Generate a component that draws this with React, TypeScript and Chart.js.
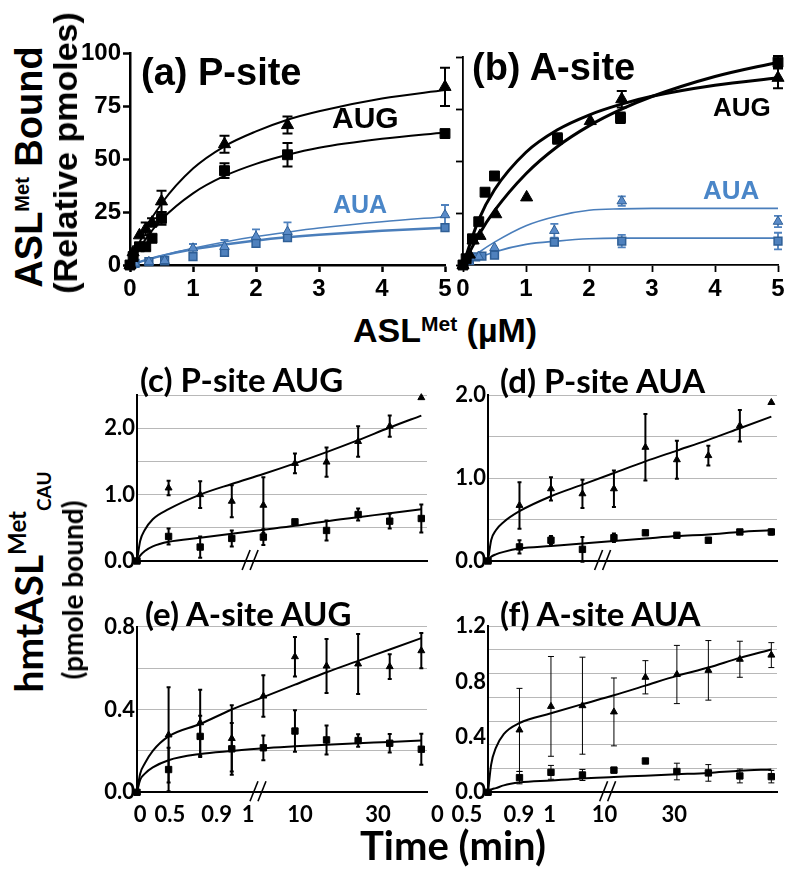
import React, { useEffect, useRef } from 'react';
import { Chart, registerables } from 'chart.js';

Chart.register(...registerables);

// ================= DATA =================
// Top row: ASL-Met concentration (µM) vs bound (relative pmoles)
const concTickValues = [0, 1, 2, 3, 4, 5];
const boundTickValues = [0, 25, 50, 75, 100];
const fitConc = [0, 0.25, 0.5, 1, 1.5, 2, 2.5, 3, 4, 5];

// (a) P-site
const aAugX = [0, 0.05, 0.15, 0.25, 0.35, 0.5, 1.5, 2.5, 5];
const aAugTri = [0, 6, 14, 17, 20, 30, 57, 66, 84];
const aAugTriErr = [0, 0, 0, 3, 2, 5, 4, 4, 9];
const aAugSq = [0, 4, 8.6, 8.6, 12.6, 22, 44.5, 52, 62];
const aAugSqErr = [0, 0, 0, 1.5, 1.5, 3, 3.5, 5.5, 0];
const aAuaX = [0, 0.08, 0.3, 0.55, 1, 1.5, 2, 2.5, 5];
const aAuaTri = [0, 0.8, 1.5, 2, 7.9, 8.6, 13.4, 15.7, 23.6];
const aAuaTriErr = [0, 0, 0, 0, 2, 3.2, 3.4, 4.4, 4.7];
const aAuaSq = [0, 0.8, 1.6, 2, 3.9, 6, 10.2, 12.9, 17.6];
const aAuaSqErr = [0, 0, 0, 0, 1, 1, 1, 1, 1];
const aAugTriFit = [0, 17, 29, 45.5, 56, 63, 68.5, 72.5, 78.5, 82.5];
const aAugSqFit = [0, 12.3, 21.4, 33.8, 42, 47.7, 52, 55.3, 59.5, 62.5];
const aAuaTriFit = [0, 2.3, 4.4, 7.9, 10.9, 13.4, 15.5, 17.4, 20.4, 22.8];
const aAuaSqFit = [0, 2.3, 4.3, 7.4, 9.7, 11.6, 13.1, 14.3, 16.2, 17.6];

// (b) A-site
const bAugSqX = [0, 0.05, 0.15, 0.25, 0.35, 0.5, 1.5, 2.5, 5];
const bAugSq = [0, 3, 12.6, 20.8, 35, 42.8, 60.8, 70.8, 97.5];
const bAugSqErr = [0, 0, 0, 0, 0, 0, 2.5, 2.5, 3];
const bAugTriX = [0, 0.1, 0.16, 0.27, 0.52, 1.01, 2.02, 2.52, 5];
const bAugTri = [0, 5, 11.8, 14, 24.4, 32.5, 69.2, 79.7, 90];
const bAugTriErr = [0, 0, 0, 0, 0, 0, 0, 4, 5];
const bAuaTriX = [0, 0.1, 0.25, 0.5, 1.45, 2.52, 5];
const bAuaTri = [0, 1.5, 4, 8.3, 16.5, 30.7, 20.9];
const bAuaTriErr = [0, 0, 0, 0, 3.3, 2.3, 2.7];
const bAuaSqX = [0, 0.1, 0.2, 0.3, 0.5, 1.45, 2.52, 5];
const bAuaSq = [0, 2.4, 3.9, 4.3, 4.7, 11, 11.5, 11.5];
const bAuaSqErr = [0, 0, 0, 0, 0, 1.5, 3, 4];
const bAugFitEarly = [0, 21.8, 36.2, 54.2, 65, 72.1, 77.2, 81.1, 86.4, 90];
const bAugFitLate = [0, 14.4, 26.1, 43.9, 57, 66.9, 74.7, 81, 90.6, 97.5];
const bAuaTriFit = [0, 6, 11, 18.9, 23.6, 26.3, 27, 27.2, 27.2, 27.2];
const bAuaSqFit = [0, 3.5, 6.3, 9.9, 11.5, 12.6, 12.9, 12.9, 12.9, 12.9];

// Bottom: time courses (points at evenly spaced time slots)
const timeSlots = [0, 1, 2, 3, 4, 5, 6, 7, 8, 9];
const fitSlots = [0, 0.1, 0.25, 0.5, 1, 2, 3, 4, 5, 6, 7, 8, 9];
const timeTickLabels = ['0', '0.5', '0.9', '1', '10', '30'];
const eTimeTickAt = [0.1, 1.04, 2.52, 3.52, 5.16, 7.63];
const fTimeTickAt = [-1.61, -0.67, 0.98, 1.96, 3.7, 5.92];

// (c) P-site AUG
const cTri = [0, 1.1, 1.0, 0.9, 0.84, 1.47, 1.49, 1.8, 2.03, 2.46];
const cTriErr = [0, 0.11, 0.2, 0.24, 0.42, 0.15, 0.22, 0.23, 0.16, 0];
const cSq = [0, 0.37, 0.21, 0.34, 0.36, 0.59, 0.46, 0.7, 0.6, 0.64];
const cSqErr = [0, 0.12, 0.16, 0.12, 0.12, 0, 0.15, 0.09, 0.11, 0.21];
const cTriFit = [0, 0.3, 0.47, 0.63, 0.78, 1.0, 1.16, 1.31, 1.47, 1.64, 1.82, 2.01, 2.19];
const cSqFit = [0, 0.08, 0.15, 0.22, 0.29, 0.35, 0.41, 0.47, 0.53, 0.6, 0.66, 0.72, 0.78];
const cGrid = [0.5, 1, 1.5, 2, 2.5];
const cLabels = [0, 1, 2];

// (d) P-site AUA
const dTri = [0, 0.67, 0.87, 0.81, 0.87, 1.37, 1.22, 1.27, 1.63, 1.91];
const dTriErr = [0, 0.28, 0.14, 0.17, 0.22, 0.4, 0.23, 0.12, 0.19, 0];
const dSq = [0, 0.17, 0.25, 0.14, 0.28, 0.34, 0.31, 0.25, 0.35, 0.35];
const dSqErr = [0, 0.08, 0.05, 0.15, 0.05, 0, 0, 0, 0, 0.03];
const dTriFit = [0, 0.25, 0.37, 0.47, 0.6, 0.78, 0.92, 1.06, 1.2, 1.33, 1.46, 1.6, 1.74];
const dSqFit = [0, 0.05, 0.08, 0.11, 0.15, 0.18, 0.21, 0.24, 0.27, 0.3, 0.32, 0.35, 0.37];
const dGrid = [0.5, 1, 1.5, 2];
const dLabels = [0, 1, 2];

// (e) A-site AUG
const eTri = [0, 0.277, 0.336, 0.26, 0.465, 0.655, 0.61, 0.62, 0.607, 0.684];
const eTriErr = [0, 0.23, 0.16, 0.16, 0.1, 0.095, 0.13, 0.145, 0.06, 0.085];
const eSq = [0, 0.11, 0.27, 0.21, 0.215, 0.296, 0.253, 0.25, 0.237, 0.208];
const eSqErr = [0, 0.105, 0.1, 0.125, 0.06, 0.1, 0.07, 0.03, 0.045, 0.075];
const eTriFit = [0, 0.09, 0.14, 0.2, 0.27, 0.33, 0.4, 0.46, 0.52, 0.58, 0.635, 0.69, 0.745];
const eSqFit = [0, 0.06, 0.09, 0.12, 0.155, 0.185, 0.2, 0.213, 0.222, 0.23, 0.237, 0.243, 0.25];
const eGrid = [0.2, 0.4, 0.6, 0.8];
const eLabels = [0, 0.4, 0.8];

// (f) A-site AUA
const fTri = [0, 0.45, 0.62, 0.625, 0.58, 0.83, 0.85, 0.88, 0.96, 0.99];
const fTriErr = [0, 0.3, 0.36, 0.35, 0.245, 0.12, 0.21, 0.215, 0.13, 0.09];
const fSq = [0, 0.106, 0.144, 0.125, 0.16, 0.226, 0.15, 0.14, 0.118, 0.113];
const fSqErr = [0, 0.045, 0.05, 0.04, 0.02, 0, 0.06, 0.06, 0.05, 0.045];
const fTriFit = [0, 0.2, 0.32, 0.42, 0.5, 0.57, 0.636, 0.7, 0.77, 0.84, 0.9, 0.97, 1.03];
const fSqFit = [0, 0.02, 0.03, 0.05, 0.07, 0.085, 0.1, 0.11, 0.12, 0.13, 0.14, 0.155, 0.165];
const fGrid = [0.171, 0.343, 0.514, 0.686, 0.857, 1.029, 1.2];
const fLabels = [0, 0.4, 0.8, 1.2];

// ================= STYLE =================
const BLACK = '#000000';
const BLUE = '#4f81bd';
const BLUE_DARK = '#2f5f96';
const BLUE_LINE = '#4a7ebb';
const ARIAL = '"Liberation Sans", Arial, sans-serif';
const CALI = 'Lato, "Open Sans", sans-serif';

Chart.defaults.color = '#000';

// ================= PLUGINS =================
const errorBarPlugin = {
  id: 'errorBars',
  beforeDatasetsDraw(chart: any) {
    const ctx = chart.ctx;
    chart.data.datasets.forEach((ds: any, i: number) => {
      if (!ds.errors) return;
      const meta = chart.getDatasetMeta(i);
      const xs = chart.scales[meta.xAxisID];
      const ys = chart.scales[meta.yAxisID];
      ctx.save();
      ctx.strokeStyle = ds.errColor;
      ctx.lineWidth = ds.errWidth;
      ds.data.forEach((p: any, j: number) => {
        const e = ds.errors[j];
        if (!e) return;
        const x = xs.getPixelForValue(p.x);
        const y1 = ys.getPixelForValue(p.y + e);
        const y2 = ys.getPixelForValue(p.y - e);
        ctx.beginPath();
        ctx.moveTo(x, y1);
        ctx.lineTo(x, y2);
        ctx.moveTo(x - ds.capW, y1);
        ctx.lineTo(x + ds.capW, y1);
        ctx.moveTo(x - ds.capW, y2);
        ctx.lineTo(x + ds.capW, y2);
        ctx.stroke();
      });
      ctx.restore();
    });
  },
};

const breakPlugin = {
  id: 'breakMarks',
  afterDraw(chart: any, _args: any, opts: any) {
    if (!opts || opts.at == null) return;
    const ctx = chart.ctx;
    const x = chart.scales.x.getPixelForValue(opts.at);
    const y = chart.chartArea.bottom;
    ctx.save();
    ctx.strokeStyle = BLACK;
    ctx.lineWidth = 1.6;
    [-4, 4].forEach((dx) => {
      ctx.beginPath();
      ctx.moveTo(x + dx - 4, y + 9);
      ctx.lineTo(x + dx + 4, y - 11);
      ctx.stroke();
    });
    ctx.restore();
  },
};

// ================= DATASET HELPERS =================
function markers(xs: number[], ys: number[], errs: number[] | null, o: any) {
  return {
    data: xs.map((x, i) => ({ x, y: ys[i] })),
    showLine: false,
    pointStyle: o.style,
    pointRadius: o.r,
    pointBackgroundColor: o.fill,
    pointBorderColor: o.border || o.fill,
    pointBorderWidth: o.bw ?? 1,
    borderColor: o.fill,
    backgroundColor: o.fill,
    errors: errs,
    errColor: o.errColor || o.fill,
    errWidth: o.errWidth ?? 2,
    capW: o.capW ?? 4,
    clip: false,
    order: 0,
  };
}

function curve(xs: number[], ys: number[], color: string, width: number) {
  return {
    data: xs.map((x, i) => ({ x, y: ys[i] })),
    showLine: true,
    borderColor: color,
    backgroundColor: color,
    borderWidth: width,
    pointRadius: 0,
    cubicInterpolationMode: 'monotone',
    fill: false,
    clip: false,
    order: 1,
  };
}

// ================= PANEL SPECS =================
type Spec = any;

function topPanel(s: Spec) {
  return {
    ...s,
    x: {
      type: 'linear',
      min: 0,
      max: 5,
      afterBuildTicks: (sc: any) => { sc.ticks = concTickValues.map((v) => ({ value: v })); },
      grid: { display: true, drawOnChartArea: false, drawTicks: true, tickLength: 7, tickWidth: s.axisW, tickColor: BLACK },
      border: { display: true, color: BLACK, width: s.axisW },
      ticks: { display: true, font: { family: ARIAL, weight: 'bold', size: 24 }, color: BLACK, padding: 3, maxRotation: 0, autoSkip: false },
    },
    y: {
      type: 'linear',
      min: 0,
      max: 100,
      afterBuildTicks: (sc: any) => { sc.ticks = boundTickValues.map((v) => ({ value: v })); },
      grid: { display: true, drawOnChartArea: false, drawTicks: true, tickLength: 7, tickWidth: s.axisW, tickColor: BLACK },
      border: { display: true, color: BLACK, width: s.axisW },
      ticks: { display: s.yLabels, font: { family: ARIAL, weight: 'bold', size: 24 }, color: BLACK, padding: 2, autoSkip: false },
    },
  };
}

function bottomPanel(s: Spec) {
  const grid: number[] = s.grid;
  const labels: number[] = s.labels;
  const merged = Array.from(new Set([...grid, ...labels])).sort((a, b) => a - b);
  const tickAt: number[] | null = s.tickAt;
  return {
    ...s,
    x: {
      type: 'linear',
      min: 0,
      max: 9.18,
      afterBuildTicks: (sc: any) => { sc.ticks = (tickAt || []).map((v) => ({ value: v })); },
      grid: { display: false, drawTicks: false },
      border: { display: true, color: BLACK, width: 2 },
      ticks: {
        display: !!tickAt,
        callback: (_v: any, i: number) => timeTickLabels[i],
        font: { family: CALI, weight: 'bold', size: 22 },
        color: BLACK,
        padding: 9,
        maxRotation: 0,
        autoSkip: false,
      },
    },
    y: {
      type: 'linear',
      min: 0,
      max: s.ymax,
      afterBuildTicks: (sc: any) => { sc.ticks = merged.map((v) => ({ value: v })); },
      grid: {
        display: true,
        drawOnChartArea: true,
        drawTicks: false,
        lineWidth: 1,
        color: (c: any) => (c.tick && grid.includes(c.tick.value) ? '#b8b8b8' : 'rgba(0,0,0,0)'),
      },
      border: { display: true, color: BLACK, width: 2 },
      ticks: {
        callback: (v: number) => (labels.includes(v) ? v.toFixed(1) : ''),
        font: { family: CALI, weight: 'bold', size: 22 },
        color: BLACK,
        padding: 2,
        autoSkip: false,
      },
    },
  };
}

const triBig = { style: 'triangle', r: 7, fill: BLACK, errWidth: 2, capW: 5 };
const sqBig = { style: 'rect', r: 7, fill: BLACK, errWidth: 2, capW: 5 };
const triBlue = { style: 'triangle', r: 5.5, fill: '#5a8bc8', border: BLUE_DARK, errColor: BLUE, errWidth: 1.8, capW: 4 };
const sqBlue = { style: 'rect', r: 5.5, fill: BLUE, border: BLUE_DARK, bw: 1.5, errColor: BLUE, errWidth: 1.8, capW: 4 };
const triSmall = { style: 'triangle', r: 4, fill: BLACK, errWidth: 2, capW: 2 };
const sqSmall = { style: 'rect', r: 4.5, fill: BLACK, errWidth: 2, capW: 2 };
const triThin = { ...triSmall, errWidth: 1, capW: 3 };
const sqThin = { ...sqSmall, errWidth: 1, capW: 3 };

const panels: Spec[] = [
  topPanel({
    id: 'a', left: 70, top: 30, w: 390, h: 280, yW: 60, xH: 45, padTop: 23, padRight: 15, axisW: 2.5, yLabels: true,
    datasets: [
      markers(aAugX, aAugTri, aAugTriErr, triBig),
      markers(aAugX, aAugSq, aAugSqErr, sqBig),
      markers(aAuaX, aAuaTri, aAuaTriErr, triBlue),
      markers(aAuaX, aAuaSq, aAuaSqErr, sqBlue),
      curve(fitConc, aAugTriFit, BLACK, 2),
      curve(fitConc, aAugSqFit, BLACK, 2),
      curve(fitConc, aAuaTriFit, BLUE_LINE, 1.5),
      curve(fitConc, aAuaSqFit, BLUE_LINE, 2.5),
    ],
  }),
  topPanel({
    id: 'b', left: 440, top: 30, w: 355, h: 280, yW: 23, xH: 45, padTop: 27, padRight: 17, axisW: 1.8, yLabels: false,
    datasets: [
      markers(bAugSqX, bAugSq, bAugSqErr, sqBig),
      markers(bAugTriX, bAugTri, bAugTriErr, triBig),
      markers(bAuaTriX, bAuaTri, bAuaTriErr, triBlue),
      markers(bAuaSqX, bAuaSq, bAuaSqErr, sqBlue),
      curve(fitConc, bAugFitEarly, BLACK, 3),
      curve(fitConc, bAugFitLate, BLACK, 3),
      curve(fitConc, bAuaTriFit, BLUE_LINE, 1.6),
      curve(fitConc, bAuaSqFit, BLUE_LINE, 1.6),
    ],
  }),
  bottomPanel({
    id: 'c', left: 80, top: 380, w: 360, h: 195, yW: 57, xH: 14, padTop: 15, padRight: 13,
    ymax: 2.5, grid: cGrid, labels: cLabels, tickAt: null, breakAt: 3.58,
    datasets: [
      markers(timeSlots, cTri, cTriErr, triSmall),
      markers(timeSlots, cSq, cSqErr, sqSmall),
      curve(fitSlots, cTriFit, BLACK, 2),
      curve(fitSlots, cSqFit, BLACK, 2),
    ],
  }),
  bottomPanel({
    id: 'd', left: 430, top: 380, w: 360, h: 195, yW: 58, xH: 14, padTop: 15, padRight: 13,
    ymax: 2.0, grid: dGrid, labels: dLabels, tickAt: null, breakAt: 3.64,
    datasets: [
      markers(timeSlots, dTri, dTriErr, triSmall),
      markers(timeSlots, dSq, dSqErr, sqSmall),
      curve(fitSlots, dTriFit, BLACK, 2),
      curve(fitSlots, dSqFit, BLACK, 2),
    ],
  }),
  bottomPanel({
    id: 'e', left: 80, top: 610, w: 360, h: 230, yW: 57, xH: 47.7, padTop: 16.7, padRight: 13,
    ymax: 0.8, grid: eGrid, labels: eLabels, tickAt: eTimeTickAt, breakAt: 3.83,
    datasets: [
      markers(timeSlots, eTri, eTriErr, triSmall),
      markers(timeSlots, eSq, eSqErr, sqSmall),
      curve(fitSlots, eTriFit, BLACK, 2),
      curve(fitSlots, eSqFit, BLACK, 2),
    ],
  }),
  bottomPanel({
    id: 'f', left: 420, top: 610, w: 370, h: 230, yW: 68, xH: 47.7, padTop: 16, padRight: 13,
    ymax: 1.2, grid: fGrid, labels: fLabels, tickAt: fTimeTickAt, breakAt: 3.8,
    datasets: [
      markers(timeSlots, fTri, fTriErr, triThin),
      markers(timeSlots, fSq, fSqErr, sqThin),
      curve(fitSlots, fTriFit, BLACK, 2),
      curve(fitSlots, fSqFit, BLACK, 2),
    ],
  }),
];

function buildConfig(s: Spec): any {
  const fixX = (sc: any) => { sc.height = s.xH; sc.paddingLeft = 0; sc.paddingRight = 0; sc.paddingTop = 0; sc.paddingBottom = 0; };
  const fixY = (sc: any) => { sc.width = s.yW; sc.paddingTop = 0; sc.paddingBottom = 0; sc.paddingLeft = 0; sc.paddingRight = 0; };
  return {
    type: 'line',
    data: { datasets: s.datasets },
    options: {
      animation: false,
      responsive: false,
      maintainAspectRatio: false,
      devicePixelRatio: 1,
      events: [],
      layout: { padding: { top: s.padTop, right: s.padRight, left: 0, bottom: 0 } },
      plugins: {
        legend: { display: false },
        tooltip: { enabled: false },
        breakMarks: s.breakAt != null ? { at: s.breakAt } : false,
      },
      scales: {
        x: { ...s.x, position: 'bottom', afterFit: fixX },
        y: { ...s.y, position: 'left', afterFit: fixY },
      },
    },
    plugins: [errorBarPlugin, breakPlugin],
  };
}

function PanelChart({ spec }: { spec: Spec }) {
  const ref = useRef<HTMLCanvasElement>(null);
  useEffect(() => {
    const chart = new Chart(ref.current as HTMLCanvasElement, buildConfig(spec));
    return () => chart.destroy();
  }, [spec]);
  return (
    <canvas
      ref={ref}
      width={spec.w}
      height={spec.h}
      style={{ position: 'absolute', left: spec.left, top: spec.top, width: spec.w, height: spec.h }}
    />
  );
}

// ================= TEXT HELPERS =================
function Txt({ left, top, size, family, color, children }: any) {
  return (
    <div
      style={{
        position: 'absolute', left, top, fontSize: size, fontFamily: family, fontWeight: 'bold',
        color: color || BLACK, lineHeight: 1, whiteSpace: 'nowrap',
      }}
    >
      {children}
    </div>
  );
}

function VTxt({ cx, cy, size, family, children }: any) {
  return (
    <div
      style={{
        position: 'absolute', left: cx, top: cy, fontSize: size, fontFamily: family, fontWeight: 'bold',
        lineHeight: 1, whiteSpace: 'nowrap', transform: 'translate(-50%, -50%) rotate(-90deg)',
      }}
    >
      {children}
    </div>
  );
}

const Sup = ({ size, raise, children }: any) => (
  <span style={{ fontSize: size, position: 'relative', top: -raise }}>{children}</span>
);

export default function App() {
  return (
    <div style={{ position: 'absolute', left: 0, top: 0, width: 800, height: 872, background: '#fff', overflow: 'hidden' }}>
      {panels.map((p) => (
        <PanelChart key={p.id} spec={p} />
      ))}

      {/* top row texts */}
      <Txt left={141} top={53} size={38} family={ARIAL}>(a) P-site</Txt>
      <Txt left={472} top={48} size={38} family={ARIAL}>(b) A-site</Txt>
      <Txt left={332} top={103} size={30} family={ARIAL}>AUG</Txt>
      <Txt left={713} top={94} size={26} family={ARIAL}>AUG</Txt>
      <Txt left={333} top={192} size={25} family={ARIAL} color="#4a86c8">AUA</Txt>
      <Txt left={703} top={177} size={26} family={ARIAL} color="#4a86c8">AUA</Txt>
      <Txt left={353} top={313} size={34} family={ARIAL}>
        ASL<Sup size={21} raise={11}>Met</Sup> (µM)
      </Txt>
      <VTxt cx={29} cy={167} size={38} family={ARIAL}>
        ASL<Sup size={20} raise={13}>Met</Sup> Bound
      </VTxt>
      <VTxt cx={65} cy={153} size={34} family={ARIAL}>(Relative pmoles)</VTxt>

      {/* bottom texts */}
      <Txt left={140} top={363} size={33} family={CALI}>(c) P-site AUG</Txt>
      <Txt left={500} top={364} size={33} family={CALI}>(d) P-site AUA</Txt>
      <Txt left={145} top={597} size={33} family={CALI}>(e) A-site AUG</Txt>
      <Txt left={500} top={597} size={33} family={CALI}>(f) A-site AUA</Txt>
      <Txt left={360} top={825} size={40} family={CALI}>Time (min)</Txt>
      <VTxt cx={28} cy={582} size={39} family={CALI}>
        hmtASL<Sup size={24} raise={17}>Met</Sup>
        <span style={{ fontSize: 19, position: 'relative', top: 8 }}>CAU</span>
      </VTxt>
      <VTxt cx={72} cy={590} size={28} family={CALI}>(pmole bound)</VTxt>
    </div>
  );
}
